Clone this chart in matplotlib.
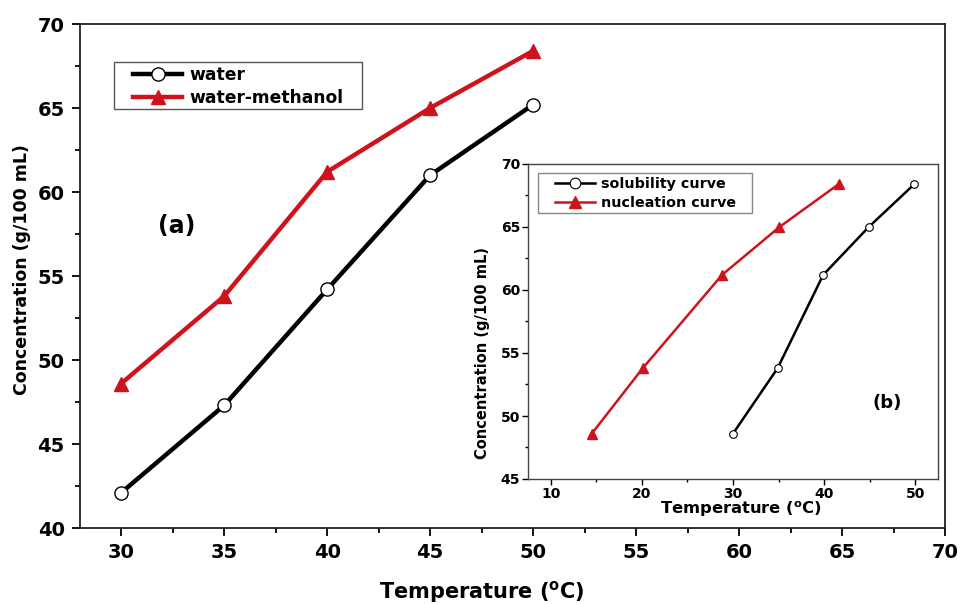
import matplotlib
matplotlib.use("Agg")
import matplotlib.pyplot as plt
from matplotlib.ticker import MultipleLocator
from matplotlib.patches import Rectangle

plt.rcParams['font.family'] = ['DejaVu Sans']
plt.rcParams['font.weight'] = 'bold'
plt.rcParams['mathtext.default'] = 'bf'

# Main panel (a)
temp_main = [30, 35, 40, 45, 50]
water = [42.1, 47.3, 54.2, 61.0, 65.2]
water_methanol = [48.6, 53.8, 61.2, 65.0, 68.4]

# Inset panel (b)
conc_inset = [48.6, 53.8, 61.2, 65.0, 68.4]
temp_solubility = [30.0, 34.9, 39.9, 44.9, 49.9]
temp_nucleation = [14.5, 20.1, 28.8, 35.1, 41.6]

red = '#cf131c'
xlabel_txt = 'Temperature ($^{\\mathbf{o}}$C)'
ylabel_txt = 'Concentration (g/100 mL)'

W, H = 960, 604
def fx(px):
    return px / W
def fy(py):
    return 1 - py / H

fig = plt.figure(figsize=(9.6, 6.04), dpi=100)
ax = fig.add_axes([fx(80), fy(528), 865/W, 504/H])
ax.plot(temp_main, water, '-', color='black', lw=3.2, marker='o', ms=9.5,
        mfc='white', mec='black', mew=1.0, label='water', zorder=3)
ax.plot(temp_main, water_methanol, '-', color=red, lw=3.2, marker='^', ms=10.5,
        mfc=red, mec=red, label='water-methanol', zorder=3)
ax.set_xlim(28, 70)
ax.set_ylim(40, 70)
ax.xaxis.set_major_locator(MultipleLocator(5))
ax.xaxis.set_minor_locator(MultipleLocator(2.5))
ax.yaxis.set_major_locator(MultipleLocator(5))
ax.yaxis.set_minor_locator(MultipleLocator(2.5))
ax.tick_params(which='both', direction='out', top=False, right=False, width=1.3)
ax.tick_params(which='major', length=6, labelsize=14, pad=5)
ax.tick_params(which='minor', length=3.5)
for sp in ax.spines.values():
    sp.set_linewidth(1.3)
    sp.set_edgecolor('#222222')
ax.set_xlabel(xlabel_txt, fontsize=15, fontweight='bold')
ax.xaxis.set_label_coords(0.464, -0.127)
ax.xaxis.label.set_va('center')
ax.set_ylabel(ylabel_txt, fontsize=12.5, fontweight='bold')
ax.yaxis.set_label_coords(-0.067, 0.512)
ax.yaxis.label.set_va('center')

# legend box (frame drawn separately to match reference padding)
ax.add_patch(Rectangle((fx(114), fy(109)), 248/W, 47/H, transform=fig.transFigure,
                       facecolor='white', edgecolor='#555555', lw=1.0, zorder=4,
                       clip_on=False))
leg = ax.legend(loc='center left', bbox_to_anchor=(fx(133), fy(86.5)),
                bbox_transform=fig.transFigure, fontsize=12.3, frameon=False,
                handlelength=2.87, borderpad=0, labelspacing=0.31, handletextpad=0.41,
                borderaxespad=0)
leg.set_zorder(5)
ax.text(32.7, 58.0, '(a)', fontsize=17, fontweight='bold', ha='center', va='center')

# Inset
ins = fig.add_axes([fx(528), fy(479), 410/W, 315/H])
ins.plot(temp_solubility, conc_inset, '-', color='black', lw=1.8, marker='o', ms=5.5,
         mfc='white', mec='black', mew=0.8, label='solubility curve', zorder=3)
ins.plot(temp_nucleation, conc_inset, '-', color=red, lw=1.8, marker='^', ms=6.5,
         mfc=red, mec=red, label='nucleation curve', zorder=3)
ins.set_xlim(7.5, 52.5)
ins.set_ylim(45, 70)
ins.xaxis.set_major_locator(MultipleLocator(10))
ins.xaxis.set_minor_locator(MultipleLocator(5))
ins.yaxis.set_major_locator(MultipleLocator(5))
ins.yaxis.set_minor_locator(MultipleLocator(2.5))
ins.tick_params(which='both', direction='out', top=False, right=False, width=1.0)
ins.tick_params(which='major', length=4, labelsize=10, pad=1.5)
ins.tick_params(which='minor', length=2.5)
for sp in ins.spines.values():
    sp.set_linewidth(1.0)
    sp.set_edgecolor('#444444')
ins.set_xlabel(xlabel_txt, fontsize=11.8, fontweight='bold')
ins.xaxis.set_label_coords(0.52, -0.097)
ins.xaxis.label.set_va('center')
ins.set_ylabel(ylabel_txt, fontsize=10.5, fontweight='bold')
ins.yaxis.set_label_coords(-0.11, 0.40)
ins.yaxis.label.set_va('center')

ins.add_patch(Rectangle((fx(538), fy(213)), 214/W, 40/H, transform=fig.transFigure,
                        facecolor='white', edgecolor='#888888', lw=1.0, zorder=4,
                        clip_on=False))
leg2 = ins.legend(loc='center left', bbox_to_anchor=(fx(555), fy(193.5)),
                  bbox_transform=fig.transFigure, fontsize=10.3, frameon=False,
                  handlelength=2.8, borderpad=0, labelspacing=0.38, handletextpad=0.42,
                  markerscale=1.4, borderaxespad=0)
leg2.set_zorder(5)
ins.text(46.9, 51.0, '(b)', fontsize=13, fontweight='bold', ha='center', va='center')

fig.savefig('out.png', dpi=100)
